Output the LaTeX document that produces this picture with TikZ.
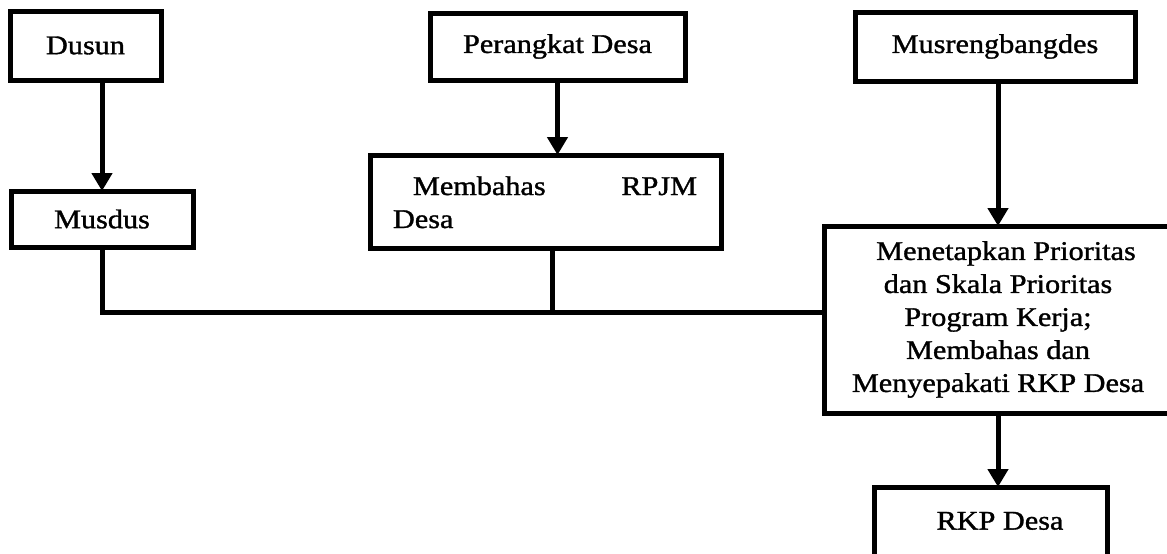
\documentclass[tikz,border=0pt]{standalone}
\usepackage{fontspec}
\setmainfont{Liberation Serif}[FakeStretch=1.12,FakeBold=1.2]
\usetikzlibrary{arrows.meta,calc}
\begin{document}
\begin{tikzpicture}[x=1pt,y=-1pt,
  box/.style={draw=black,line width=5pt,rectangle,inner sep=0pt,outer sep=0pt,fill=white},
  txt/.style={inner sep=0pt,outer sep=0pt,font=\fontsize{27}{33}\selectfont},
  conn/.style={line width=5pt,line join=miter},
  arr/.style={conn,-{Triangle[width=20pt,length=18pt]}}]
\useasboundingbox (0,0) rectangle (1167,554);
\clip (0,0) rectangle (1167,554);
\fill[white] (0,0) rectangle (1167,554);
% boxes
\node[box,minimum width=151pt,minimum height=69pt,font=\fontsize{27}{33}\selectfont] (dusun) at (85.5,45.5) {Dusun};
\node[box,minimum width=182pt,minimum height=56pt,font=\fontsize{27}{33}\selectfont] (musdus) at (102,219) {\raisebox{-3pt}{Musdus}};
\node[box,minimum width=255pt,minimum height=67pt,font=\fontsize{27}{33}\selectfont] (perangkat) at (557.5,46.5) {Perangkat Desa};
\node[box,minimum width=351pt,minimum height=93pt] (membahas) at (545.5,201.5) {};
\node[box,minimum width=280pt,minimum height=69pt,font=\fontsize{27}{33}\selectfont] (musreng) at (995,46.5) {Musrengbangdes};
\node[box,minimum width=348pt,minimum height=187pt,align=center,font=\fontsize{27}{33}\selectfont] (big) at (998,319.5)
  {\hspace*{16pt}Menetapkan Prioritas\\dan Skala Prioritas\\Program Kerja;\\Membahas dan\\Menyepakati RKP Desa};
\node[box,minimum width=233pt,minimum height=73pt,font=\fontsize{27}{33}\selectfont] (rkp) at (990.5,523.5) {\hspace*{19pt}\raisebox{5.5pt}{RKP Desa}};
% text of the RPJM box
\node[txt,anchor=base west] (mb1) at (413,195) {Membahas};
\node[txt,anchor=base east] (mb2) at (697,195) {RPJM};
\node[txt,anchor=base west] (mb3) at (393,228) {Desa};
% connectors
\coordinate (junc) at (552,312);
\draw[arr] (dusun.south -| musdus.north) -- (musdus.north);
\draw[arr] (perangkat.south) -- (perangkat.south |- membahas.north);
\draw[arr] (musreng.south -| big.north) -- (big.north);
\draw[arr] (big.south) -- (big.south |- rkp.north);
\draw[conn] (musdus.south) |- (junc -| big.west);
\draw[conn] (membahas.south -| junc) -- (junc);
\end{tikzpicture}
\end{document}
